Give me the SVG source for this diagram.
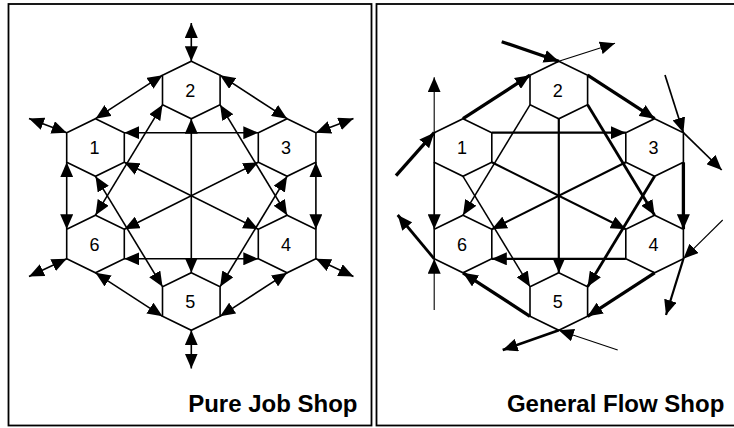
<svg xmlns="http://www.w3.org/2000/svg" width="734" height="428" viewBox="0 0 734 428">
<style>
.frame{fill:none;stroke:#000;stroke-width:1.8}
.hex{fill:none;stroke:#000;stroke-width:1.6;stroke-linejoin:miter}
.num{font-family:"Liberation Sans",Arial,sans-serif;font-size:18px;fill:#000;text-anchor:middle}
.lbl{font-family:"Liberation Sans",Arial,sans-serif;font-size:24px;font-weight:bold;fill:#000;text-anchor:end}
.c{fill:none;stroke:#000;stroke-width:1.6}
.both{marker-start:url(#as);marker-end:url(#ae)}
.one{marker-end:url(#ae)}
.w1{stroke-width:1.1}
.w13{stroke-width:1.5}
.w15{stroke-width:1.7}
.w2{stroke-width:2.2}
.w25{stroke-width:2.8}
.w3{stroke-width:3.3}
</style>
<defs>
<marker id="ae" viewBox="0 0 15 13" refX="15" refY="6.5" markerWidth="15" markerHeight="13" markerUnits="userSpaceOnUse" orient="auto"><path d="M0,0L15,6.5L0,13z" fill="#000"/></marker>
<marker id="as" viewBox="0 0 15 13" refX="0" refY="6.5" markerWidth="15" markerHeight="13" markerUnits="userSpaceOnUse" orient="auto"><path d="M15,0L0,6.5L15,13z" fill="#000"/></marker>
<polygon id="hex" class="hex" points="0,-28.8 28.8,-14.8 28.8,14.8 0,28.8 -28.8,14.8 -28.8,-14.8"/>
</defs>
<rect x="0" y="0" width="734" height="428" fill="#fff"/>

<g id="pure-job-shop">
<rect class="frame" x="8.5" y="4" width="363" height="421.5"/>
<g id="job-node-2"><use href="#hex" x="191.3" y="90"/><text class="num" x="190.3" y="96.5">2</text></g>
<g id="job-node-1"><use href="#hex" x="95.5" y="147.5"/><text class="num" x="94.5" y="154">1</text></g>
<g id="job-node-3"><use href="#hex" x="287.1" y="147.5"/><text class="num" x="286.1" y="154">3</text></g>
<g id="job-node-6"><use href="#hex" x="95.5" y="244"/><text class="num" x="94.5" y="250.5">6</text></g>
<g id="job-node-4"><use href="#hex" x="287.1" y="244"/><text class="num" x="286.1" y="250.5">4</text></g>
<g id="job-node-5"><use href="#hex" x="191.3" y="301.5"/><text class="num" x="190.3" y="308">5</text></g>
<g id="job-connectors">
<path class="c both" d="M95.5,118.7L162.5,75.2"/>
<path class="c both" d="M220.1,75.2L287.1,118.7"/>
<path class="c both" d="M315.9,162.3L315.9,229.2"/>
<path class="c both" d="M287.1,272.8L220.1,316.3"/>
<path class="c both" d="M162.5,316.3L95.5,272.8"/>
<path class="c both" d="M66.7,229.2L66.7,162.3"/>
<path class="c both" d="M124.3,132.7L258.3,132.7"/>
<path class="c both" d="M124.3,258.8L258.3,258.8"/>
<path class="c both" d="M191.3,118.8L191.3,272.7"/>
<path class="c both" d="M124.3,162.3L258.3,229.2"/>
<path class="c both" d="M258.3,162.3L124.3,229.2"/>
<path class="c both" d="M162.5,104.8L95.5,215.2"/>
<path class="c both" d="M220.1,104.8L287.1,215.2"/>
<path class="c both" d="M95.5,176.3L162.5,286.7"/>
<path class="c both" d="M287.1,176.3L220.1,286.7"/>
<path class="c both" d="M191.3,61.2L191.3,23"/>
<path class="c both" d="M66.7,132.7L29,118.5"/>
<path class="c both" d="M315.9,132.7L353.5,118.5"/>
<path class="c both" d="M66.7,258.8L29,276.5"/>
<path class="c both" d="M315.9,258.8L353.5,276.5"/>
<path class="c both" d="M191.3,330.3L191.3,368.5"/>
</g>
<text class="lbl" x="357.5" y="411.5">Pure Job Shop</text>
</g>

<g id="general-flow-shop">
<rect class="frame" x="376.5" y="4" width="370" height="421.5"/>
<g transform="translate(367.5,0)">
<g id="flow-node-2"><use href="#hex" x="191.3" y="90"/><text class="num" x="190.3" y="96.5">2</text></g>
<g id="flow-node-1"><use href="#hex" x="95.5" y="147.5"/><text class="num" x="94.5" y="154">1</text></g>
<g id="flow-node-3"><use href="#hex" x="287.1" y="147.5"/><text class="num" x="286.1" y="154">3</text></g>
<g id="flow-node-6"><use href="#hex" x="95.5" y="244"/><text class="num" x="94.5" y="250.5">6</text></g>
<g id="flow-node-4"><use href="#hex" x="287.1" y="244"/><text class="num" x="286.1" y="250.5">4</text></g>
<g id="flow-node-5"><use href="#hex" x="191.3" y="301.5"/><text class="num" x="190.3" y="308">5</text></g>
<g id="flow-connectors">
<path class="c one w3" d="M134.2,41.7L191.3,61.2"/>
<path class="c one w3" d="M95.5,118.7L162.5,75.2"/>
<path class="c one w3" d="M220.1,75.2L287.1,118.7"/>
<path class="c one w3" d="M28.5,175.7L66.7,132.7"/>
<path class="c one w3" d="M162.5,316.3L95.5,272.8"/>
<path class="c one w3" d="M287.1,272.8L220.1,316.3"/>
<path class="c one w3" d="M315.9,162.3L315.9,229.2"/>
<path class="c one w25" d="M66.7,258.8L30.2,215"/>
<path class="c one w25" d="M191.3,330.3L135.2,350"/>
<path class="c one w25" d="M220.1,104.8L287.1,215.2"/>
<path class="c one w25" d="M287.1,176.3L220.1,286.7"/>
<path class="c one w2" d="M124.3,132.7L258.3,132.7"/>
<path class="c one w2" d="M258.3,258.8L124.3,258.8"/>
<path class="c one w2" d="M191.3,118.8L191.3,272.7"/>
<path class="c one w2" d="M124.3,162.3L258.3,229.2"/>
<path class="c one w2" d="M258.3,162.3L124.3,229.2"/>
<path class="c one w2" d="M315.9,258.8L298.5,315"/>
<path class="c one w15" d="M297.5,75L315.9,132.7"/>
<path class="c one w15" d="M315.9,132.7L354.2,170"/>
<path class="c one w15" d="M66.7,162.3L66.7,229.2"/>
<path class="c one w13" d="M162.5,104.8L95.5,215.2"/>
<path class="c one w13" d="M95.5,176.3L162.5,286.7"/>
<path class="c one w1" d="M191.3,61.2L247.5,43.3"/>
<path class="c one w1" d="M66.7,132.7L66.7,77.3"/>
<path class="c one w1" d="M66.7,310L66.7,258.8"/>
<path class="c one w1" d="M250.2,350L191.3,330.3"/>
<path class="c one w1" d="M355.2,220L315.9,258.8"/>
</g>
</g>
<text class="lbl" x="724.3" y="411.5">General Flow Shop</text>
</g>
</svg>
